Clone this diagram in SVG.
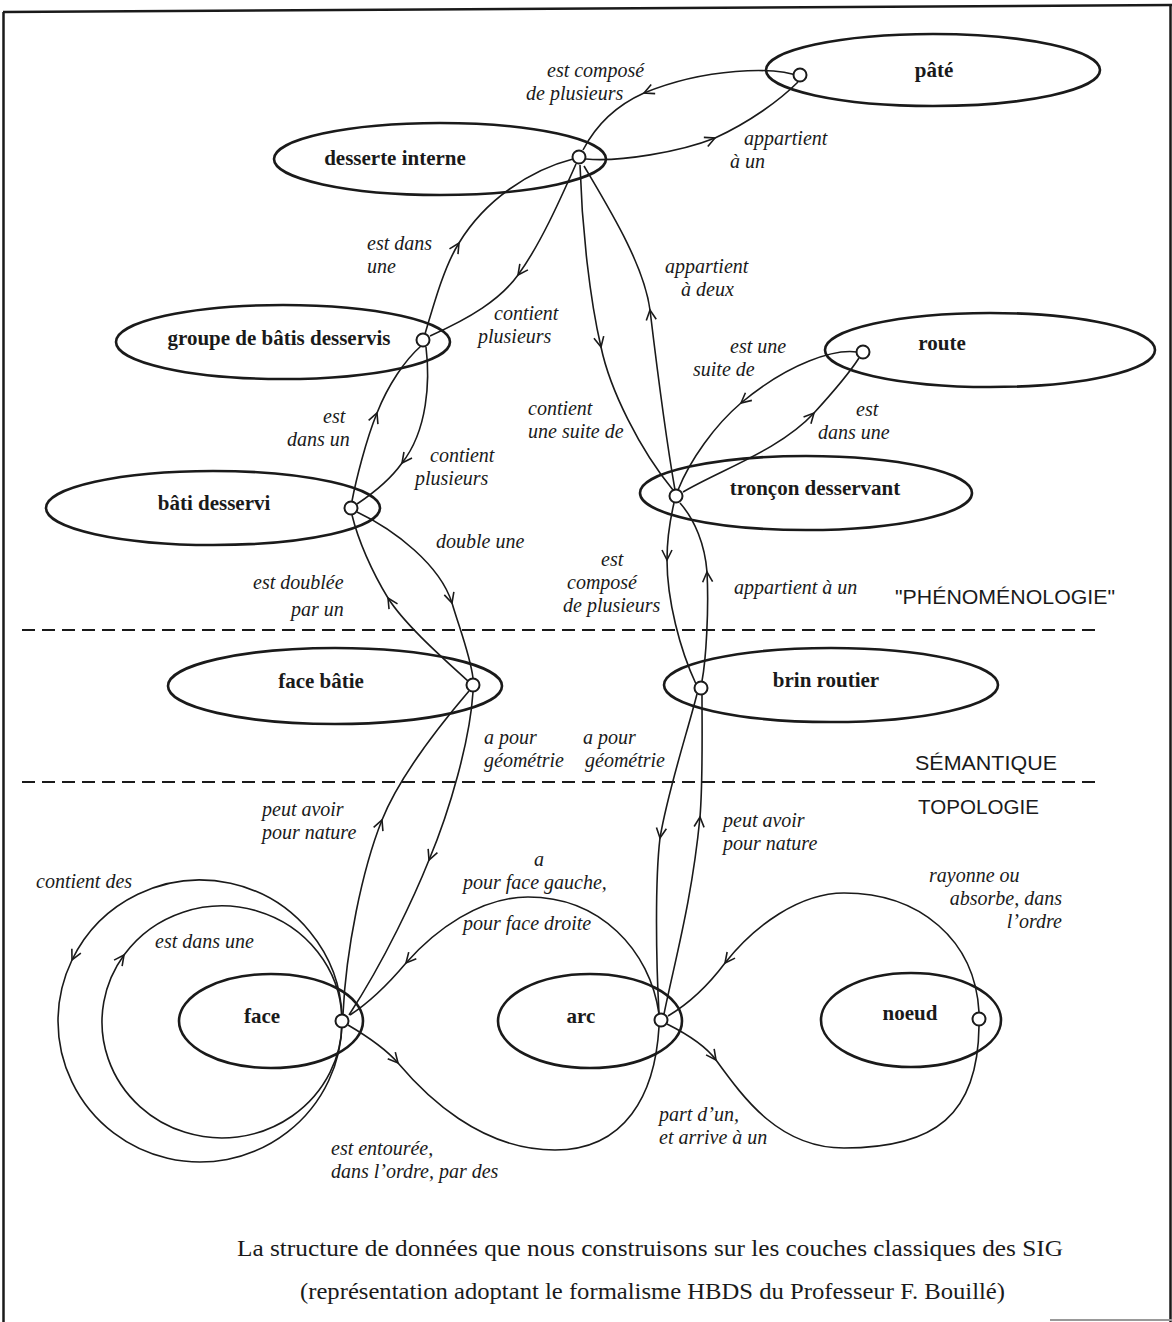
<svg xmlns="http://www.w3.org/2000/svg" width="1172" height="1322" viewBox="0 0 1172 1322">
<style>
.bg{fill:#ffffff}
.frame{stroke:#1a1a1a;stroke-width:2.5;fill:none}
.ell{fill:none;stroke:#1a1a1a;stroke-width:2.6}
.pt{fill:#ffffff;stroke:#1a1a1a;stroke-width:2}
.con{fill:none;stroke:#1a1a1a;stroke-width:1.6}
.arr{marker-mid:url(#chev)}
.dash{stroke:#1a1a1a;stroke-width:2.2;stroke-dasharray:13 7}
.nl{font-family:"Liberation Serif","Times New Roman",serif;font-weight:bold;font-size:21px;fill:#1a1a1a;text-anchor:middle}
.rl{font-family:"Liberation Serif","Times New Roman",serif;font-style:italic;font-size:20px;fill:#1a1a1a}
.ly{font-family:"Liberation Sans",Arial,sans-serif;font-size:20px;fill:#1a1a1a}
.cap{font-family:"Liberation Serif","Times New Roman",serif;font-size:24px;fill:#1a1a1a}
</style>
<defs>
<marker id="chev" markerUnits="userSpaceOnUse" markerWidth="24" markerHeight="24" refX="0" refY="0" orient="auto" overflow="visible">
<path d="M-10,-5 L0,0 L-10,5" fill="none" stroke="#1a1a1a" stroke-width="1.6"/>
</marker>
</defs>
<rect class="bg" x="0" y="0" width="1172" height="1322"/>
<g id="frame">
<line class="frame" x1="3" y1="12" x2="1172" y2="5"/>
<line class="frame" x1="3.5" y1="12" x2="3.5" y2="1322"/>
<line class="frame" x1="1170.5" y1="5" x2="1170.5" y2="1322"/>
<line x1="1050" y1="1320" x2="1172" y2="1320" stroke="#999" stroke-width="2"/>
</g>
<g id="layers">
<line class="dash" x1="22" y1="630" x2="1100" y2="630"/>
<line class="dash" x1="22" y1="782" x2="1100" y2="782"/>
<text class="ly" x="895" y="604" textLength="220" lengthAdjust="spacingAndGlyphs">"PHÉNOMÉNOLOGIE"</text>
<text class="ly" x="915" y="770" textLength="142" lengthAdjust="spacingAndGlyphs">SÉMANTIQUE</text>
<text class="ly" x="918" y="814" textLength="121" lengthAdjust="spacingAndGlyphs">TOPOLOGIE</text>
</g>
<g id="connectors">
<path class="con arr" d="M801,77 C775,66 705,68 644,93 C615,106 596,125 583,150"/>
<path class="con arr" d="M586,159 C620,162 680,152 715,138 C750,122 780,100 798,82"/>
<path class="con arr" d="M425,334 C435,300 445,265 459,243 C485,200 530,170 573,159"/>
<path class="con arr" d="M576,164 C560,200 540,245 518,275 C500,300 470,318 430,336"/>
<path class="con arr" d="M352,501 C356,480 366,440 377,413 C388,385 405,360 421,346"/>
<path class="con arr" d="M426,347 C430,380 428,430 402,463 C390,480 375,492 357,504"/>
<path class="con arr" d="M357,512 C395,530 440,565 452,603 C460,630 470,655 473,678"/>
<path class="con arr" d="M468,681 C445,660 405,625 388,598 C372,572 358,540 352,515"/>
<path class="con arr" d="M343,1014 C346,950 362,870 382,820 C400,775 440,725 469,691"/>
<path class="con arr" d="M473,692 C470,740 450,810 429,860 C415,895 385,960 349,1015"/>
<path class="con arr" d="M580,165 C582,230 590,300 601,347 C610,390 640,450 673,490"/>
<path class="con arr" d="M675,490 C668,450 656,360 650,310 C644,265 610,210 584,166"/>
<path class="con arr" d="M857,352 C835,349 790,362 741,403 C715,425 690,460 678,490"/>
<path class="con arr" d="M683,492 C720,470 780,450 814,413 C835,390 850,372 859,358"/>
<path class="con arr" d="M674,503 C670,520 667,540 667,560 C667,600 680,650 696,684"/>
<path class="con arr" d="M702,681 C706,660 709,610 707,572 C705,545 695,520 680,503"/>
<path class="con arr" d="M697,694 C688,730 668,790 660,838 C655,880 656,960 659,1013"/>
<path class="con arr" d="M664,1014 C675,960 692,900 700,817 C703,780 702,730 702,695"/>
<path class="con arr" d="M342,1019 A142,141 0 0 0 72,960 A142,141 0 1 0 342,1023"/>
<path class="con arr" d="M342,1023 A120,116 0 1 1 124,955 A120,116 0 0 1 342,1019"/>
<path class="con" d="M659,1014 C650,950 600,897 528,897"/>
<path class="con arr" d="M528,897 C480,897 435,930 406,963 C390,982 370,1002 350,1015"/>
<path class="con arr" d="M348,1025 C365,1035 385,1048 398,1063 C425,1095 480,1150 555,1150"/>
<path class="con" d="M555,1150 C625,1150 655,1095 659,1027"/>
<path class="con" d="M979,1012 C975,940 920,893 844,893"/>
<path class="con arr" d="M844,893 C800,893 755,925 725,963 C710,983 690,1003 668,1016"/>
<path class="con arr" d="M667,1024 C685,1033 705,1045 716,1060 C745,1100 780,1148 844,1148"/>
<path class="con" d="M844,1148 C935,1148 978,1115 979,1026"/>
</g>
<g id="labels">
<text class="rl" x="547" y="77">est composé</text>
<text class="rl" x="526" y="100">de plusieurs</text>
<text class="rl" x="744" y="145">appartient</text>
<text class="rl" x="730" y="168">à un</text>
<text class="rl" x="367" y="250">est dans</text>
<text class="rl" x="367" y="273">une</text>
<text class="rl" x="665" y="273">appartient</text>
<text class="rl" x="681" y="296">à deux</text>
<text class="rl" x="494" y="320">contient</text>
<text class="rl" x="478" y="343">plusieurs</text>
<text class="rl" x="323" y="423">est</text>
<text class="rl" x="287" y="446">dans un</text>
<text class="rl" x="430" y="462">contient</text>
<text class="rl" x="415" y="485">plusieurs</text>
<text class="rl" x="436" y="548">double une</text>
<text class="rl" x="253" y="589">est doublée</text>
<text class="rl" x="291" y="616">par un</text>
<text class="rl" x="528" y="415">contient</text>
<text class="rl" x="528" y="438">une suite de</text>
<text class="rl" x="730" y="353">est une</text>
<text class="rl" x="693" y="376">suite de</text>
<text class="rl" x="856" y="416">est</text>
<text class="rl" x="818" y="439">dans une</text>
<text class="rl" x="601" y="566">est</text>
<text class="rl" x="567" y="589">composé</text>
<text class="rl" x="563" y="612">de plusieurs</text>
<text class="rl" x="734" y="594">appartient à un</text>
<text class="rl" x="484" y="744">a pour</text>
<text class="rl" x="484" y="767">géométrie</text>
<text class="rl" x="583" y="744">a pour</text>
<text class="rl" x="585" y="767">géométrie</text>
<text class="rl" x="262" y="816">peut avoir</text>
<text class="rl" x="262" y="839">pour nature</text>
<text class="rl" x="723" y="827">peut avoir</text>
<text class="rl" x="723" y="850">pour nature</text>
<text class="rl" x="534" y="866">a</text>
<text class="rl" x="463" y="889">pour face gauche,</text>
<text class="rl" x="463" y="930">pour face droite</text>
<text class="rl" x="36" y="888">contient des</text>
<text class="rl" x="155" y="948">est dans une</text>
<text class="rl" x="929" y="882">rayonne ou</text>
<text class="rl" x="1062" y="905" text-anchor="end">absorbe, dans</text>
<text class="rl" x="1062" y="928" text-anchor="end">l’ordre</text>
<text class="rl" x="331" y="1155">est entourée,</text>
<text class="rl" x="331" y="1178">dans l’ordre, par des</text>
<text class="rl" x="659" y="1121">part d’un,</text>
<text class="rl" x="659" y="1144">et arrive à un</text>
</g>
<g id="node-pate"><ellipse class="ell" cx="933" cy="70" rx="167" ry="36"/><text class="nl" x="934" y="77">pâté</text><circle class="pt" cx="800" cy="75" r="6.5"/></g>
<g id="node-desserte-interne"><ellipse class="ell" cx="440" cy="159" rx="166" ry="36"/><text class="nl" x="395" y="165">desserte interne</text><circle class="pt" cx="579" cy="157" r="6.5"/></g>
<g id="node-groupe"><ellipse class="ell" cx="283" cy="342" rx="167" ry="37"/><text class="nl" x="279" y="345">groupe de bâtis desservis</text><circle class="pt" cx="423" cy="340" r="6.5"/></g>
<g id="node-bati"><ellipse class="ell" cx="213" cy="508" rx="167" ry="37"/><text class="nl" x="214" y="510">bâti desservi</text><circle class="pt" cx="351" cy="508" r="6.5"/></g>
<g id="node-route"><ellipse class="ell" cx="990" cy="350" rx="165" ry="37"/><text class="nl" x="942" y="350">route</text><circle class="pt" cx="863" cy="352" r="6.5"/></g>
<g id="node-troncon"><ellipse class="ell" cx="806" cy="493" rx="166" ry="37"/><text class="nl" x="815" y="495">tronçon desservant</text><circle class="pt" cx="676" cy="496" r="6.5"/></g>
<g id="node-face-batie"><ellipse class="ell" cx="335" cy="686" rx="167" ry="38"/><text class="nl" x="321" y="688">face bâtie</text><circle class="pt" cx="473" cy="685" r="6.5"/></g>
<g id="node-brin"><ellipse class="ell" cx="831" cy="685" rx="167" ry="37"/><text class="nl" x="826" y="687">brin routier</text><circle class="pt" cx="701" cy="688" r="6.5"/></g>
<g id="node-face"><ellipse class="ell" cx="271" cy="1021" rx="92" ry="47"/><text class="nl" x="262" y="1023">face</text><circle class="pt" cx="342" cy="1021" r="6.5"/></g>
<g id="node-arc"><ellipse class="ell" cx="590" cy="1021" rx="92" ry="47"/><text class="nl" x="581" y="1023">arc</text><circle class="pt" cx="661" cy="1020" r="6.5"/></g>
<g id="node-noeud"><ellipse class="ell" cx="911" cy="1020" rx="90" ry="47"/><text class="nl" x="910" y="1020">noeud</text><circle class="pt" cx="979" cy="1019" r="6.5"/></g>
<g id="caption">
<text class="cap" x="237" y="1256" textLength="826" lengthAdjust="spacingAndGlyphs">La structure de données que nous construisons sur les couches classiques des SIG</text>
<text class="cap" x="300" y="1299" textLength="705" lengthAdjust="spacingAndGlyphs">(représentation adoptant le formalisme HBDS du Professeur F. Bouillé)</text>
</g>
</svg>
